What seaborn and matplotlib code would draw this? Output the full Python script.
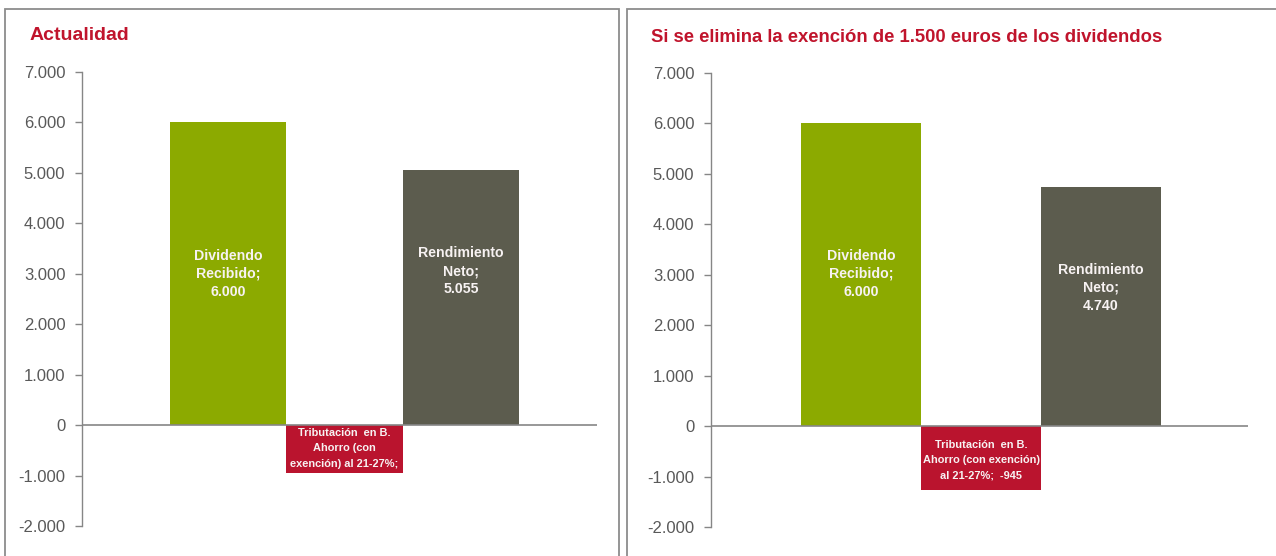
import matplotlib
matplotlib.use("Agg")
import matplotlib.pyplot as plt
import seaborn as sns
import pandas as pd
from matplotlib.patches import Rectangle
from matplotlib.ticker import FuncFormatter

# ---------------- data ----------------
categories = ["Dividendo Recibido", "Tributación en B. Ahorro", "Rendimiento Neto"]
values_actual = [6000, -945, 5055]
values_sin_exencion = [6000, -1260, 4740]
labels_actual = ["Dividendo\nRecibido;\n6.000",
                 "Tributación  en B.\nAhorro (con\nexención) al 21-27%;",
                 "Rendimiento\nNeto;\n5.055"]
labels_sin_exencion = ["Dividendo\nRecibido;\n6.000",
                       "Tributación  en B.\nAhorro (con exención)\nal 21-27%;  -945",
                       "Rendimiento\nNeto;\n4.740"]
titles = ["Actualidad", "Si se elimina la exención de 1.500 euros de los dividendos"]
y_ticks = [-2000, -1000, 0, 1000, 2000, 3000, 4000, 5000, 6000, 7000]

# ---------------- style ----------------
colors = ["#8CAA00", "#BA142E", "#5C5C4E"]
title_color = "#C0142C"
tick_color = "#595959"
axis_color = "#868686"

sns.set_theme(style="white")
plt.rcParams["font.family"] = ["Liberation Sans", "DejaVu Sans"]

W, H = 1276, 556
fig = plt.figure(figsize=(W / 100, H / 100), dpi=100)

def fx(px):
    return px / W

def fy(py):
    return 1 - py / H

# panel borders
for (x0, y0, x1, y1) in [(5, 9, 619, 560), (627, 9, 1290, 560)]:
    fig.patches.append(Rectangle((fx(x0), fy(y1)), fx(x1 - x0), (y1 - y0) / H,
                                 transform=fig.transFigure, fill=False,
                                 edgecolor="#8C8C8C", linewidth=1.3))

# layout for each panel: axes px box, xlim, label y fractions of bar value
panels = [
    dict(box=(82, 72, 597, 526), xlim=(-1.253, 3.167), vals=values_actual,
         labels=labels_actual, lab_frac=[0.5, 0.49, 0.604], title=titles[0],
         title_xy=(30, 36), title_size=14, small_size=7.9),
    dict(box=(711, 73, 1248, 527), xlim=(-1.25, 3.225), vals=values_sin_exencion,
         labels=labels_sin_exencion, lab_frac=[0.503, 0.536, 0.578], title=titles[1],
         title_xy=(651, 38), title_size=13.3, small_size=7.9),
]

fmt = FuncFormatter(lambda v, p: f"{v:,.0f}".replace(",", "."))

for pn in panels:
    x0, y0, x1, y1 = pn["box"]
    ax = fig.add_axes([fx(x0), fy(y1), fx(x1 - x0), (y1 - y0) / H])
    df = pd.DataFrame({"cat": categories, "val": pn["vals"]})
    sns.barplot(data=df, x="cat", y="val", hue="cat", palette=colors,
                width=1.0, legend=False, ax=ax, linewidth=0, saturation=1)
    ax.set_xlim(*pn["xlim"])
    ax.set_ylim(min(y_ticks), max(y_ticks))
    ax.set_yticks(y_ticks)
    ax.yaxis.set_major_formatter(fmt)
    ax.set_xticks([])
    ax.set_xlabel("")
    ax.set_ylabel("")
    ax.axhline(0, color=axis_color, linewidth=1.2, zorder=1)
    for s in ["top", "right", "bottom"]:
        ax.spines[s].set_visible(False)
    ax.spines["left"].set_color(axis_color)
    ax.spines["left"].set_linewidth(1.0)
    ax.tick_params(axis="y", direction="out", length=5, width=1.0,
                   color=axis_color, labelcolor=tick_color, labelsize=12, pad=7,
                   left=True)
    ax.patch.set_alpha(0)
    for i, (v, lab, fr) in enumerate(zip(pn["vals"], pn["labels"], pn["lab_frac"])):
        small = v < 0
        ax.text(i, v * fr, lab, ha="center", va="center", color="#F7F2F2",
                fontsize=pn["small_size"] if small else 10.2, fontweight="bold",
                linespacing=1.65 if small else 1.38, zorder=5)
    fig.text(fx(pn["title_xy"][0]), fy(pn["title_xy"][1]), pn["title"],
             ha="left", va="center", color=title_color, fontsize=pn["title_size"],
             fontweight="bold")

fig.savefig("out.png", dpi=100)
